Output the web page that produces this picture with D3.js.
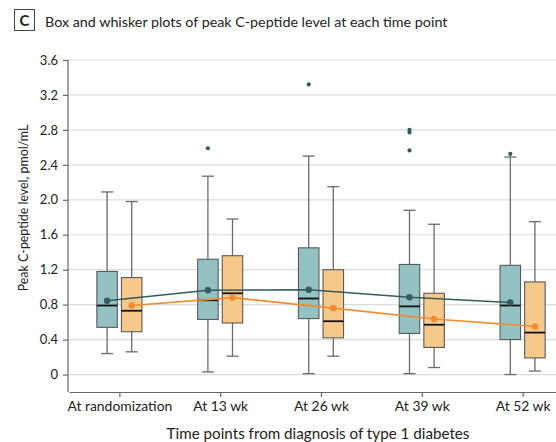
<!DOCTYPE html>
<html>
<head>
<meta charset="utf-8">
<script src="https://cdn.jsdelivr.net/npm/d3@7"></script>
<style>
body{margin:0;background:#fff;}
text{font-family:Lato,"Open Sans",sans-serif;fill:#222;}
</style>
</head>
<body>
<div id="chart"></div>
<script>
// data
var timePoints=["At randomization","At 13 wk","At 26 wk","At 39 wk","At 52 wk"];
var yTicks=[0,0.4,0.8,1.2,1.6,2.0,2.4,2.8,3.2,3.6];
// [whiskerLow, q1, median, q3, whiskerHigh]
var groupA=[
    [0.24,0.54,0.79,1.18,2.09],
    [0.03,0.63,0.85,1.32,2.27],
    [0.01,0.64,0.87,1.45,2.50],
    [0.01,0.47,0.78,1.26,1.88],
    [0.00,0.40,0.79,1.25,2.49]
];
var groupB=[
    [0.26,0.49,0.73,1.11,1.98],
    [0.21,0.59,0.93,1.36,1.78],
    [0.21,0.42,0.61,1.20,2.15],
    [0.08,0.31,0.57,0.93,1.72],
    [0.04,0.19,0.48,1.06,1.75]
];
var meanA=[0.845,0.965,0.97,0.885,0.825];
var meanB=[0.79,0.88,0.76,0.635,0.55];
var outliersA=[[],[2.59],[3.32],[2.80,2.77,2.565],[2.525]];
var outliersB=[[],[],[],[],[]];

var width=556,height=442;
var colA="#94c1c1",colB="#f6c98b",lineA="#345c5c",lineB="#f08c2e";

var svg=d3.select("#chart").append("svg")
    .attr("width",width).attr("height",height);

var y=d3.scaleLinear().domain([-0.2,3.6]).range([392,60]);
var x=d3.scalePoint().domain(timePoints).range([69,573]).padding(0.5);
var off=12.3,bw=20.5;

// title
svg.append("rect").attr("x",14.5).attr("y",9.5).attr("width",20).attr("height",21)
    .attr("fill","none").attr("stroke","#444").attr("stroke-width",1);
svg.append("text").attr("x",24.5).attr("y",26).attr("text-anchor","middle")
    .style("font-weight","bold").style("font-size","15px").text("C");
svg.append("text").attr("x",45).attr("y",26.5).style("font-size","14.3px")
    .text("Box and whisker plots of peak C-peptide level at each time point");

// gridlines
svg.append("g").selectAll("line").data(yTicks).enter().append("line")
    .attr("x1",68).attr("x2",width)
    .attr("y1",function(d){return y(d)}).attr("y2",function(d){return y(d)})
    .attr("stroke","#dcdcdc").attr("stroke-width",1.2);

// axes
var yAxis=svg.append("g").attr("transform","translate(68,0)")
    .call(d3.axisLeft(y).tickValues(yTicks).tickSize(5).tickSizeOuter(0)
        .tickFormat(function(d){return d===0?"0":d3.format(".1f")(d)}));
var xAxis=svg.append("g").attr("transform","translate(0,392)")
    .call(d3.axisBottom(x).tickSize(5).tickSizeOuter(0));
[yAxis,xAxis].forEach(function(a){
    a.selectAll("path,line").attr("stroke","#666").attr("stroke-width",1.2);
    a.selectAll("text").attr("fill","#222")
        .style("font-family","Lato,'Open Sans',sans-serif");
});
yAxis.select(".domain").attr("d","M0,60V392");
yAxis.selectAll(".tick text").attr("x",-10).style("font-size","13px");
xAxis.selectAll(".tick text").attr("y",9).style("font-size","13.9px");

svg.append("text").attr("transform","translate(28,208) rotate(-90)")
    .attr("text-anchor","middle").style("font-size","12.4px")
    .text("Peak C-peptide level, pmol/mL");
svg.append("text").attr("x",318).attr("y",439).attr("text-anchor","middle")
    .style("font-size","15.2px").text("Time points from diagnosis of type 1 diabetes");

function addBoxes(data,dx,fill){
    var g=svg.append("g").selectAll("g").data(data).enter().append("g")
        .attr("transform",function(d,i){return "translate("+(x(timePoints[i])+dx)+",0)"});
    g.append("line").attr("y1",function(d){return y(d[0])}).attr("y2",function(d){return y(d[4])})
        .attr("stroke","#6a6a6a").attr("stroke-width",1.3);
    g.selectAll(".cap").data(function(d){return [d[0],d[4]]}).enter().append("line")
        .attr("x1",-6).attr("x2",6)
        .attr("y1",function(v){return y(v)}).attr("y2",function(v){return y(v)})
        .attr("stroke","#6a6a6a").attr("stroke-width",1.3);
    g.append("rect").attr("x",-bw/2).attr("width",bw)
        .attr("y",function(d){return y(d[3])})
        .attr("height",function(d){return y(d[1])-y(d[3])})
        .attr("fill",fill).attr("stroke","#5a5a5a").attr("stroke-width",1.1);
    g.append("line").attr("x1",-bw/2).attr("x2",bw/2)
        .attr("y1",function(d){return y(d[2])}).attr("y2",function(d){return y(d[2])})
        .attr("stroke","#111").attr("stroke-width",1.8);
}
addBoxes(groupA,-off,colA);
addBoxes(groupB,off,colB);

function addMeans(data,dx,col){
    var line=d3.line().x(function(d,i){return x(timePoints[i])+dx}).y(function(d){return y(d)});
    svg.append("path").datum(data).attr("d",line).attr("fill","none")
        .attr("stroke",col).attr("stroke-width",1.6);
    svg.append("g").selectAll("circle").data(data).enter().append("circle")
        .attr("cx",function(d,i){return x(timePoints[i])+dx})
        .attr("cy",function(d){return y(d)}).attr("r",3.2).attr("fill",col);
}
addMeans(meanA,-off,lineA);
addMeans(meanB,off,lineB);

function addOutliers(data,dx,col){
    data.forEach(function(arr,i){
        svg.append("g").selectAll("circle").data(arr).enter().append("circle")
            .attr("cx",x(timePoints[i])+dx).attr("cy",function(d){return y(d)})
            .attr("r",2.1).attr("fill",col);
    });
}
addOutliers(outliersA,-off,lineA);
addOutliers(outliersB,off,lineB);
</script>
</body>
</html>
